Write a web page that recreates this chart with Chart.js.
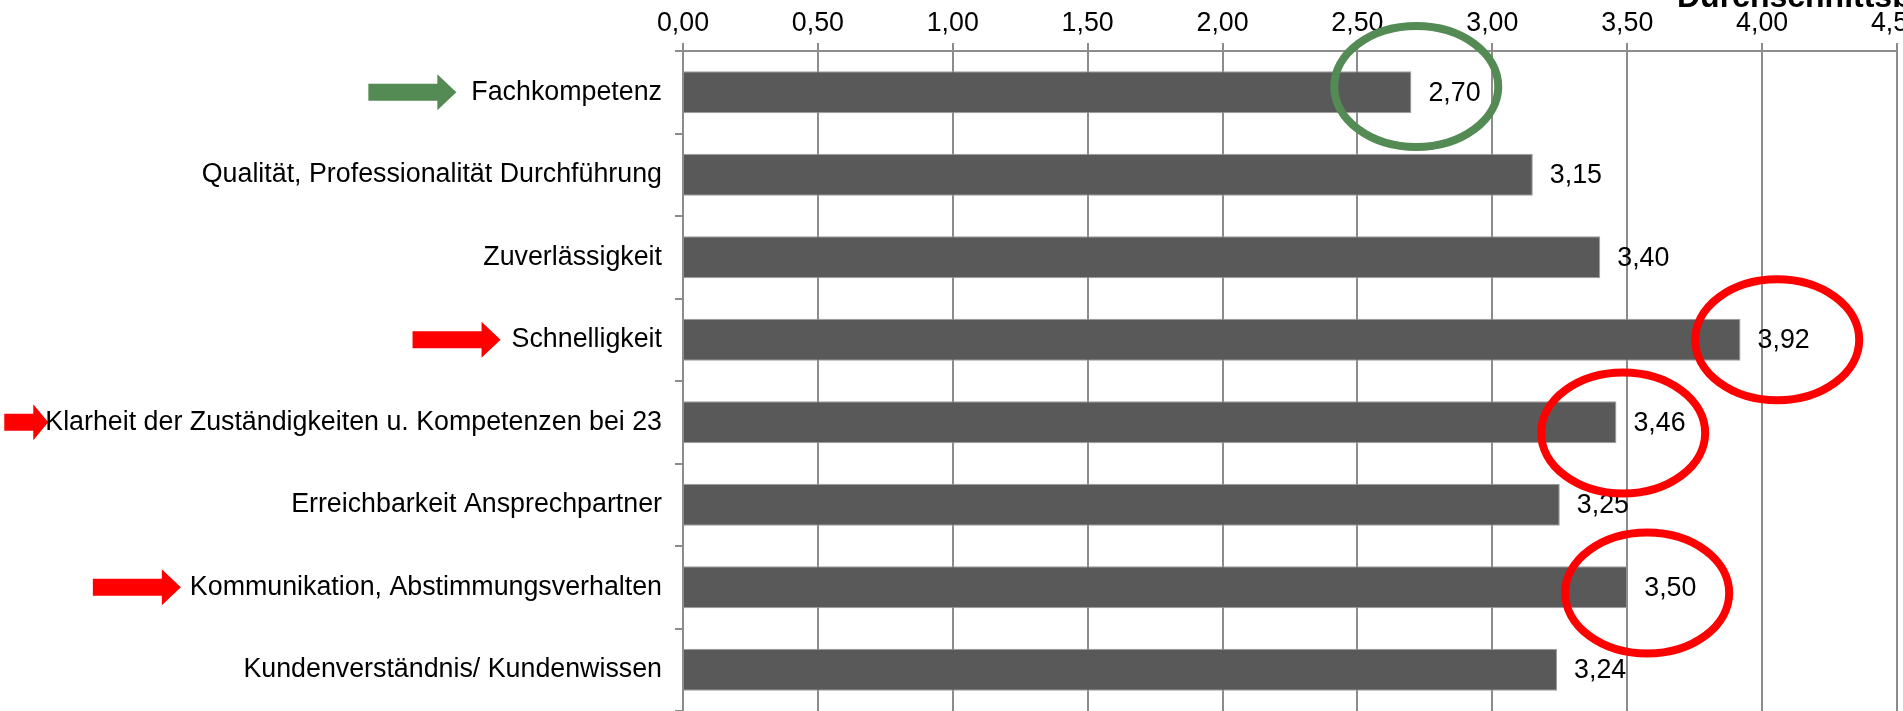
<!DOCTYPE html>
<html>
<head>
<meta charset="utf-8">
<script src="https://cdn.jsdelivr.net/npm/chart.js@4/dist/chart.umd.min.js"></script>
<style>
	html, body { margin: 0; padding: 0; background: #fff; }
	#wrap { position: relative; width: 1903px; height: 711px; }
</style>
</head>
<body>
<div id="wrap"><canvas id="chart"></canvas></div>
<script>
var categories = [
	'Fachkompetenz',
	'Qualität, Professionalität Durchführung',
	'Zuverlässigkeit',
	'Schnelligkeit',
	'Klarheit der Zuständigkeiten u. Kompetenzen bei 23',
	'Erreichbarkeit Ansprechpartner',
	'Kommunikation, Abstimmungsverhalten',
	'Kundenverständnis/ Kundenwissen'
];
var averages = [2.70, 3.15, 3.40, 3.92, 3.46, 3.25, 3.50, 3.24];
var axisMin = 0;
var axisMax = 4.5;
var axisStep = 0.5;
var axisTitle = 'Durchschnittsbewertung';

// highlight marks: ellipse centre in data units (value, category + offset)
var circles = [
	{ cat: 0, x: 2.718, dy: -0.07, color: '#548b54' },
	{ cat: 3, x: 4.056, dy: 0.0, color: '#ff0000' },
	{ cat: 4, x: 3.485, dy: 0.13, color: '#ff0000' },
	{ cat: 6, x: 3.574, dy: 0.07, color: '#ff0000' }
];
// arrows in front of the category labels, gap = distance from arrow tip to label
var arrows = [
	{ cat: 0, gap: 15, len: 88, head: 19, color: '#548b54' },
	{ cat: 3, gap: 11, len: 88, head: 19, color: '#ff0000' },
	{ cat: 4, gap: -3, len: 44, head: 15, color: '#ff0000' },
	{ cat: 6, gap: 9, len: 88, head: 19, color: '#ff0000' }
];

var FONT = '"Liberation Sans", Arial, sans-serif';
var FONT_SIZE = 26.8;
var GRID = '#8c8c8c';
var TICK_LEN = 8;
var LABEL_PAD = 13;

function fmt(v) {
	return v.toFixed(2).replace('.', ',');
}

var annotate = {
	id: 'annotate',
	beforeDraw: function (chart) {
		var ctx = chart.ctx;
		var y = chart.scales.y;
		var labelRight = chart.chartArea.left - TICK_LEN - LABEL_PAD;
		ctx.save();
		ctx.font = FONT_SIZE + 'px ' + FONT;
		arrows.forEach(function (a) {
			var w = ctx.measureText(categories[a.cat]).width;
			var tip = labelRight - w - a.gap;
			var cy = y.getPixelForValue(a.cat);
			var shaft = 8.5, head = 18;
			var x0 = tip - a.len, hb = tip - a.head;
			ctx.fillStyle = a.color;
			ctx.beginPath();
			ctx.moveTo(x0, cy - shaft);
			ctx.lineTo(hb, cy - shaft);
			ctx.lineTo(hb, cy - head);
			ctx.lineTo(tip, cy);
			ctx.lineTo(hb, cy + head);
			ctx.lineTo(hb, cy + shaft);
			ctx.lineTo(x0, cy + shaft);
			ctx.closePath();
			ctx.fill();
		});
		ctx.restore();
	},
	afterDatasetsDraw: function (chart) {
		var ctx = chart.ctx;
		var xs = chart.scales.x, ys = chart.scales.y;
		var meta = chart.getDatasetMeta(0);
		ctx.save();
		ctx.font = FONT_SIZE + 'px ' + FONT;
		ctx.fillStyle = '#000';
		ctx.textAlign = 'left';
		ctx.textBaseline = 'middle';
		meta.data.forEach(function (bar, i) {
			ctx.fillText(fmt(averages[i]), bar.x + 17, bar.y + 1);
		});

		ctx.lineWidth = 8;
		circles.forEach(function (c) {
			var cx = xs.getPixelForValue(c.x);
			var cy = ys.getPixelForValue(c.cat + c.dy);
			ctx.strokeStyle = c.color;
			ctx.beginPath();
			ctx.ellipse(cx, cy, 82, 60.5, 0, 0, Math.PI * 2);
			ctx.stroke();
		});

		ctx.font = 'bold 32px ' + FONT;
		ctx.textBaseline = 'alphabetic';
		ctx.fillText(axisTitle, 1677, 7);
		ctx.restore();
	}
};

new Chart(document.getElementById('chart'), {
	type: 'bar',
	data: {
		labels: categories,
		datasets: [{
			data: averages,
			backgroundColor: '#595959',
			borderColor: '#9d9d9d',
			borderWidth: 1,
			barPercentage: 1,
			categoryPercentage: 0.51
		}]
	},
	options: {
		indexAxis: 'y',
		responsive: true,
		maintainAspectRatio: false,
		animation: false,
		layout: { padding: { top: 0, right: 6, bottom: 0, left: 0 } },
		plugins: {
			legend: { display: false },
			tooltip: { enabled: false }
		},
		scales: {
			x: {
				position: 'top',
				min: axisMin,
				max: axisMax,
				grid: { color: GRID, lineWidth: 2, tickLength: TICK_LEN },
				border: { color: GRID, width: 2 },
				ticks: {
					stepSize: axisStep,
					maxRotation: 0,
					padding: 3,
					color: '#000',
					font: { family: FONT, size: FONT_SIZE },
					callback: function (v) { return fmt(v); }
				},
				afterFit: function (scale) {
					scale.height = 51;
					scale.paddingLeft = 0;
					scale.paddingRight = 0;
				}
			},
			y: {
				grid: { color: GRID, lineWidth: 2, tickLength: TICK_LEN, drawOnChartArea: false, offset: true },
				border: { color: GRID, width: 2 },
				ticks: {
					padding: LABEL_PAD,
					color: '#000',
					font: { family: FONT, size: FONT_SIZE }
				},
				afterFit: function (scale) {
					scale.width = 683;
					scale.paddingTop = 0;
					scale.paddingBottom = 0;
				}
			}
		}
	},
	plugins: [annotate]
});
</script>
</body>
</html>
